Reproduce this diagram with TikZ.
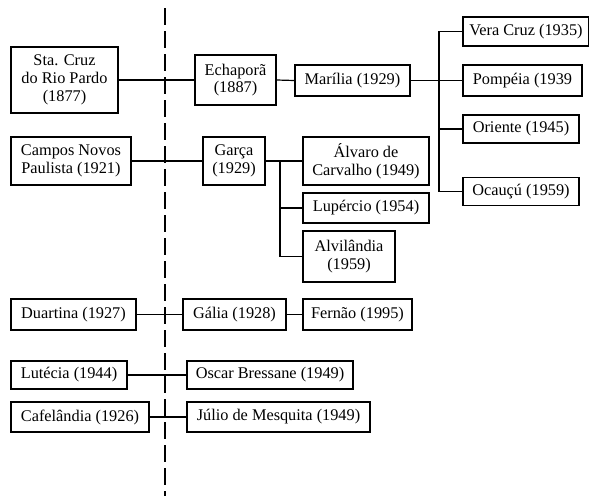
\documentclass[tikz,border=0pt]{standalone}
\usepackage{fontspec}
\setmainfont{Liberation Serif}
\begin{document}
\begin{tikzpicture}[x=1pt,y=-1pt,
  town/.style={draw=black, line width=1.3pt, fill=white, inner sep=0pt,
    align=center, font=\fontsize{16.3}{17.8}\selectfont},
  link/.style={draw=black, line width=1.2pt},
  divider/.style={draw=black, line width=1.3pt, dash pattern=on 17pt off 6pt}]
\useasboundingbox (0,0) rectangle (589,496);

% dividing line between the two columns
\coordinate (dtop) at (165,8);
\coordinate (dbot) at (165,496);
\draw[divider] (dtop) -- (dbot);

% first group
\node[town, minimum width=107, minimum height=66] (sta) at (64.5,80) {Sta. Cruz\\do Rio Pardo\\(1877)};
\node[town, minimum width=81, minimum height=50] (echa) at (235.5,80) {Echaporã\\(1887)};
\node[town, minimum width=115, minimum height=31] (mar) at (352.5,80.5) {Marília (1929)};
\node[town, minimum width=126, minimum height=29] (vera) at (526,31.5) {Vera Cruz (1935)};
\node[town, minimum width=119, minimum height=31] (pomp) at (522.5,80.5) {Pompéia (1939};
\node[town, minimum width=116, minimum height=28] (ori) at (521,129) {Oriente (1945)};
\node[town, minimum width=116, minimum height=28] (oca) at (521,191.5) {Ocauçú (1959)};

% second group
\node[town, minimum width=120, minimum height=48] (campos) at (71,161) {Campos Novos\\Paulista (1921)};
\node[town, minimum width=62, minimum height=48] (garca) at (234,161) {Garça\\(1929)};
\node[town, minimum width=126, minimum height=48] (alvaro) at (366,161) {Álvaro de\\Carvalho (1949)};
\node[town, minimum width=126, minimum height=30] (luper) at (366,208) {Lupércio (1954)};
\node[town, minimum width=92, minimum height=51] (alvil) at (349,256.5) {Alvilândia\\(1959)};

% remaining rows
\node[town, minimum width=125, minimum height=31] (duart) at (73.5,314.5) {Duartina (1927)};
\node[town, minimum width=103, minimum height=31] (galia) at (234.5,314.5) {Gália (1928)};
\node[town, minimum width=109, minimum height=31] (fernao) at (357.5,314.5) {Fernão (1995)};
\node[town, minimum width=116, minimum height=28] (lute) at (69,375) {Lutécia (1944)};
\node[town, minimum width=166, minimum height=28] (oscar) at (270,375) {Oscar Bressane (1949)};
\node[town, minimum width=138, minimum height=30] (cafe) at (80,417) {Cafelândia (1926)};
\node[town, minimum width=183, minimum height=30] (julio) at (278.5,417) {Júlio de Mesquita (1949)};

% junction points of the branches
\coordinate (jm) at (439,80.5);
\coordinate (jg) at (280,161);

% connectors
\draw[link] (sta.east) -- (echa.west);
\draw[link] (echa.east) -- (mar.west);
\draw[link] (mar.east) -- (pomp.west);
\draw[link] (vera.west) -| (jm) |- (oca.west);
\draw[link] (ori.west) -- (ori.west -| jm);

\draw[link] (campos.east) -- (garca.west);
\draw[link] (garca.east) -- (jg) |- (alvil.west);
\draw[link] (jg) -- (alvaro.west);
\draw[link] (luper.west) -- (luper.west -| jg);

\draw[link] (duart.east) -- (galia.west);
\draw[link] (galia.east) -- (fernao.west);
\draw[link] (lute.east) -- (oscar.west);
\draw[link] (cafe.east) -- (julio.west);
\end{tikzpicture}
\end{document}
